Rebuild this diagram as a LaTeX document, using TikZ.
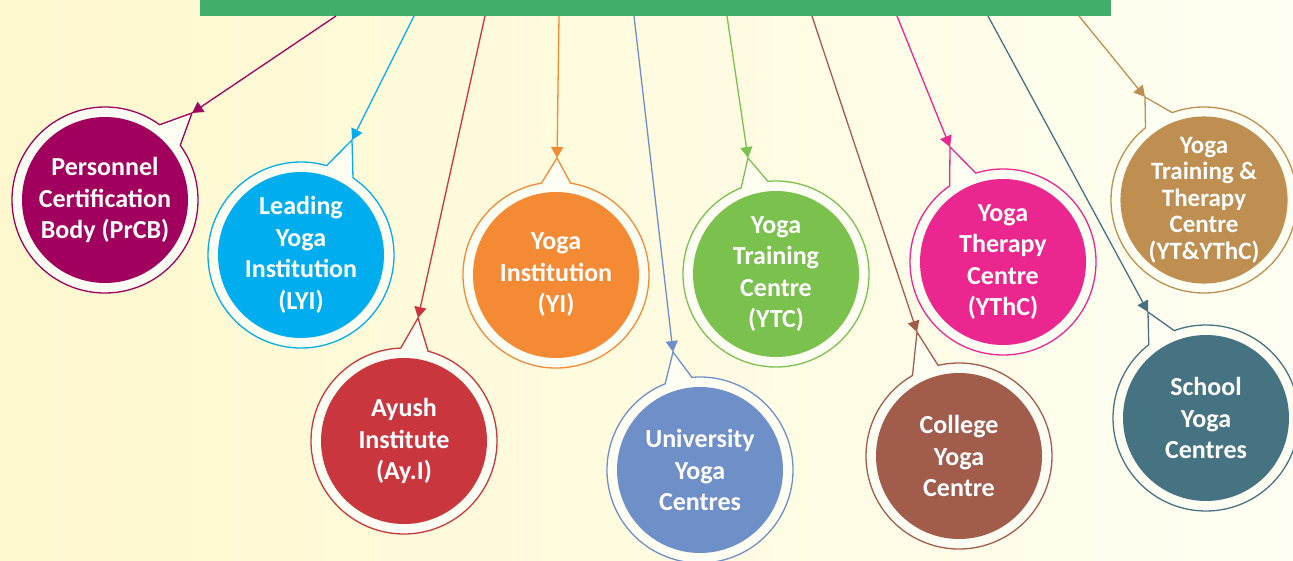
\documentclass[tikz,border=0pt]{standalone}
\usepackage{fontspec}
\setmainfont{Carlito}
\usetikzlibrary{arrows.meta}
\definecolor{bggreen}{HTML}{41AF69}
\definecolor{bgleft}{HTML}{FFF8CE}
\definecolor{bgright}{HTML}{FFFEF2}
\definecolor{ringfill}{HTML}{FFFEF3}
\definecolor{cprcb}{HTML}{A1005F}
\definecolor{clyi}{HTML}{00AEEF}
\definecolor{cayi}{HTML}{C9363E}
\definecolor{cyi}{HTML}{F58A35}
\definecolor{cuyc}{HTML}{6F8FC9}
\definecolor{cytc}{HTML}{7AC14E}
\definecolor{ccyc}{HTML}{A15C4C}
\definecolor{cythc}{HTML}{EC268F}
\definecolor{cytythc}{HTML}{BE8F50}
\definecolor{csyc}{HTML}{467381}

\begin{document}
\begin{tikzpicture}[x=1pt,y=1pt]
    \tikzstyle{disc}=[circle,inner sep=0pt,minimum size=166pt,text=white,align=center]
    \tikzstyle{ring}=[line width=1.3pt,fill=ringfill]
    \tikzstyle{link}=[line width=1.3pt,-{Triangle[length=11pt,width=12pt]}]
    \useasboundingbox (0,0) rectangle (1293,-560);
    \clip (0,0) rectangle (1293,-560);
    \shade[left color=bgleft,right color=bgright] (0,0) rectangle (1293,-560);
    \node[fill=bggreen,minimum width=911pt,minimum height=40pt,inner sep=0pt,anchor=south west] (banner) at (200,-16) {};
    \foreach \n/\cx/\cy/\tx/\ty/\aa/\ab/\sx/\fs/\ls/\txt in {
        prcb/105/-200/192/-113/36/54/136/26/31.5/{Personnel\\Certification\\Body (PrCB)},
        lyi/301/-255/352/-140/56/74/214/26/31.5/{Leading\\Yoga\\Institution\\(LYI)},
        ayi/404/-441/418/-318/75/92/285/26/31.5/{Ayush\\Institute\\(Ay.I)},
        yi/556/-275/557/-158/81/99/359/26/31.5/{Yoga\\Institution\\(YI)},
        uyc/700/-470/673/-352/95/112/434/26/31.5/{University\\Yoga\\Centres},
        ytc/776/-274/748/-158/95/112/527/26/31.5/{Yoga\\Training\\Centre\\(YTC)},
        cyc/959/-456/917/-332/103/120/612/26/31.5/{College\\Yoga\\Centre},
        ythc/1003/-262/950/-147/107/125/697/26/31.5/{Yoga\\Therapy\\Centre\\(YThC)},
        ytythc/1204/-200/1145/-97/110/129/879/25/26.5/{Yoga\\Training \&\\Therapy\\Centre\\(YT\&YThC)},
        syc/1206/-418/1148/-312/110/128/788/26/31.5/{School\\Yoga\\Centres}}
    {
        \coordinate (ctr\n) at (\cx,\cy);
        \coordinate (tip\n) at (\tx,\ty);
        \draw[ring,draw=c\n] ([shift={(\aa:93)}]ctr\n) -- (tip\n) -- ([shift={(\ab:93)}]ctr\n)
            arc[start angle=\ab,end angle=\aa+360,radius=93] -- cycle;
        \node[disc,fill=c\n,font=\bfseries\fontsize{\fs}{\ls}\selectfont] (\n) at (ctr\n) {\txt};
        \draw[link,draw=c\n] ([xshift=\sx pt]banner.south west) -- (tip\n);
    }
\end{tikzpicture}
\end{document}
